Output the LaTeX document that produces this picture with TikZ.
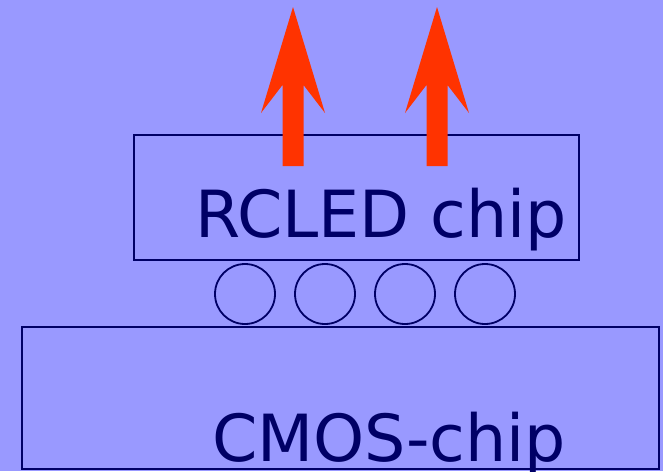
\documentclass[tikz,border=0pt]{standalone}
\usepackage{fontspec}
\setmainfont{DejaVu Sans}
\definecolor{bgblue}{HTML}{9999FF}
\definecolor{navy}{HTML}{000066}
\definecolor{rayred}{HTML}{FF3300}
\begin{document}
\begin{tikzpicture}[x=1pt,y=-1pt,
  chipbox/.style={draw=navy,line width=2pt,rectangle,inner sep=0pt},
  bump/.style={draw=navy,line width=1.8pt,circle,minimum size=60pt,inner sep=0pt},
  chiplabel/.style={text=navy,font=\fontsize{65}{70}\selectfont,inner sep=0pt,anchor=base west},
  lightray/.style={fill=rayred}]
\fill[bgblue] (0,0) rectangle (663,471);
\useasboundingbox (0,0) rectangle (663,471);
\node[chipbox,minimum width=445pt,minimum height=125pt] (rcled) at (356.5,197.5) {};
\node[chipbox,minimum width=637pt,minimum height=142pt] (cmos) at (340.5,398) {};
\foreach \i/\x in {1/245,2/325,3/405,4/485}
  \node[bump] (b\i) at (\x,294) {};
\node[chiplabel] (rctext) at (195,237) {RCLED chip};
\node[chiplabel] (cmtext) at (212,461) {CMOS-chip};
\foreach \cx in {293,437}
  \fill[lightray] (\cx,7) -- (\cx+32,113) -- (\cx+10.5,85) -- (\cx+10.5,166)
    -- (\cx-10.5,166) -- (\cx-10.5,85) -- (\cx-32,113) -- cycle;
\end{tikzpicture}
\end{document}
